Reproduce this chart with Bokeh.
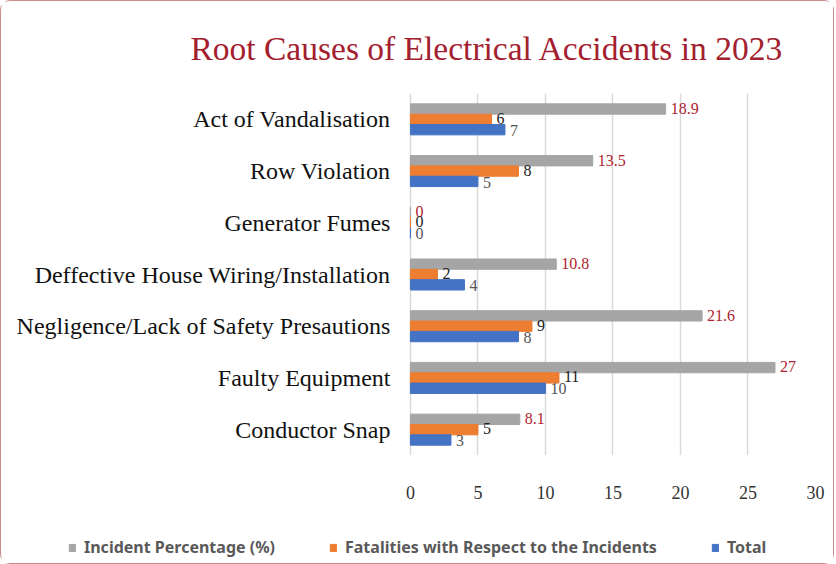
from bokeh.plotting import figure
from bokeh.models import ColumnDataSource, FactorRange, Legend, LegendItem, LabelSet
from bokeh.layouts import column
from bokeh.transform import dodge
from bokeh.embed import file_html
from bokeh.resources import INLINE

categories = ["Act of Vandalisation", "Row Violation", "Generator Fumes",
              "Deffective House Wiring/Installation",
              "Negligence/Lack of Safety Presautions", "Faulty Equipment",
              "Conductor Snap"]
incident_pct = [18.9, 13.5, 0, 10.8, 21.6, 27, 8.1]
fatalities = [6, 8, 0, 2, 9, 11, 5]
total = [7, 5, 0, 4, 8, 10, 3]
series_names = ["Incident Percentage (%)", "Fatalities with Respect to the Incidents", "Total"]
x_ticks = [0, 5, 10, 15, 20, 25, 30]

gray, orange, blue = "#a5a5a5", "#ed7d31", "#4472c4"

src = ColumnDataSource(dict(
    cat=categories, inc=incident_pct, fat=fatalities, tot=total,
    zero=[0] * len(categories),
    inc_lbl=[("%g" % v) for v in incident_pct],
    fat_lbl=[str(v) for v in fatalities],
    tot_lbl=[str(v) for v in total],
))

# frame spans nearly the full width; the category names sit left of x=0
p = figure(width=832, height=500, output_backend="svg", toolbar_location=None,
           y_range=FactorRange(factors=list(reversed(categories))),
           x_range=(-29.4, 30),
           min_border_left=12, min_border_right=18, min_border_top=91, min_border_bottom=46)

p.title.text = "Root Causes of  Electrical Accidents in 2023"
p.title.text_font = "Liberation Serif"
p.title.text_font_size = "33.5px"
p.title.text_color = "#a3202e"
p.title.align = "left"
p.title.offset = 177
p.title.standoff = 53
p.title.text_font_style = "normal"

h = 0.2
r1 = p.hbar(y=dodge("cat", 0.2, range=p.y_range), right="inc", height=h, left=0,
            source=src, color=gray)
r2 = p.hbar(y=dodge("cat", 0.0, range=p.y_range), right="fat", height=h, left=0,
            source=src, color=orange)
r3 = p.hbar(y=dodge("cat", -0.2, range=p.y_range), right="tot", height=h, left=0,
            source=src, color=blue)

# category names, right-aligned just left of the zero line
p.add_layout(LabelSet(x="zero", y="cat", text="cat", source=src, x_offset=-20,
                      text_align="right", text_baseline="middle",
                      text_font="Liberation Serif", text_font_size="24px",
                      text_color="#111111"))

lbl_common = dict(text_font="Liberation Serif", text_font_size="16px",
                  text_baseline="middle", x_offset=5)
p.add_layout(LabelSet(x="inc", y="cat", y_offset=11, text="inc_lbl",
                      source=src, text_color="#b0232f", **lbl_common))
p.add_layout(LabelSet(x="fat", y="cat", y_offset=1, text="fat_lbl",
                      source=src, text_color="#222222", **lbl_common))
p.add_layout(LabelSet(x="tot", y="cat", y_offset=-11, text="tot_lbl",
                      source=src, text_color="#555555", **lbl_common))

p.xaxis.ticker = x_ticks
p.xaxis.axis_line_color = None
p.xaxis.major_tick_line_color = None
p.xaxis.minor_tick_line_color = None
p.xaxis.major_label_text_font = "Liberation Serif"
p.xaxis.major_label_text_font_size = "18px"
p.xaxis.major_label_text_color = "#333333"
p.xaxis.major_label_standoff = 24

p.yaxis.visible = False
p.ygrid.grid_line_color = None
p.xgrid.grid_line_color = "#d9d9d9"
p.xgrid.grid_line_width = 1.5
p.outline_line_color = None

# legend strip under the chart (hidden copies of the series supply the swatches)
lg = figure(width=832, height=62, output_backend="svg", toolbar_location=None,
            x_range=(0, 1), y_range=(0, 1),
            min_border_left=12, min_border_right=18, min_border_top=0, min_border_bottom=0)
lg.axis.visible = False
lg.grid.visible = False
lg.outline_line_color = None
g1 = lg.hbar(y="inc", right="inc", left=0, height=0.2, source=src, color=gray, visible=False)
g2 = lg.hbar(y="fat", right="fat", left=0, height=0.2, source=src, color=orange, visible=False)
g3 = lg.hbar(y="tot", right="tot", left=0, height=0.2, source=src, color=blue, visible=False)
legend = Legend(items=[LegendItem(label=series_names[0], renderers=[g1]),
                       LegendItem(label=series_names[1], renderers=[g2]),
                       LegendItem(label=series_names[2], renderers=[g3])],
                orientation="horizontal", location=(55, 5),
                label_text_font="Noto Sans", label_text_font_size="16px",
                label_text_font_style="bold",
                label_text_color="#595959", glyph_width=8, glyph_height=9,
                spacing=54, border_line_color=None, background_fill_alpha=0,
                inactive_fill_alpha=0, click_policy="none",
                margin=0, padding=4, label_standoff=8)
lg.add_layout(legend, "center")

layout = column(p, lg, spacing=0)
layout.styles = {"border": "1px solid #c98b8b", "border-radius": "10px"}

open("out.html", "w").write(file_html(layout, INLINE))
